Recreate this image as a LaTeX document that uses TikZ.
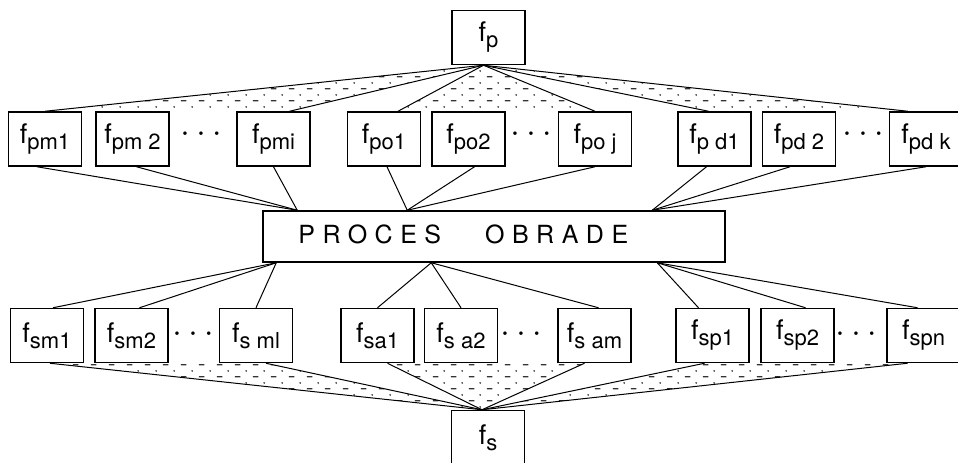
\documentclass[tikz,border=0pt]{standalone}
\usepackage{fontspec}
\setmainfont{TeX Gyre Heros}
\usetikzlibrary{calc,patterns.meta}

% 扇形区域的点划纹理
\tikzdeclarepattern{
  name=stipple,
  type=uncolored,
  bounding box={(0pt,0pt) and (9pt,6pt)},
  tile size={(9pt,6pt)},
  code={
    \tikzset{x=1pt,y=1pt}
    \path[draw,line width=0.7pt] (0.5,1.2) -- (3.3,1.2);
    \path[fill] (6.4,4.3) circle (0.5);
  }
}

\newcommand{\fidx}[1]{f\raisebox{-3pt}{\fontsize{11}{13}\selectfont #1}}
\newcommand{\trio}{{\fontsize{7}{7}\selectfont\textbullet\hspace{5.5pt}\textbullet\hspace{5.5pt}\textbullet}}

\tikzset{
  fbox/.style={draw,line width=0.75pt,minimum width=36.5pt,minimum height=27pt,
    inner sep=0pt,font=\fontsize{13.5}{15}\selectfont},
  procbox/.style={draw,line width=0.75pt,minimum width=231pt,minimum height=25.5pt,inner sep=0pt},
  link/.style={line width=0.5pt},
  fan/.style={pattern=stipple,pattern color=black!80},
  trio/.style={inner sep=0pt}
}

\begin{document}
\begin{tikzpicture}[x=0.5pt,y=-0.5pt]
\useasboundingbox (0,0) rectangle (958,462);
% 上方总框
\node[fbox] (fp) at (488.5,37.5) {\fidx{p}};
% 上排
\node[fbox] (fpm1) at (45,139) {\fidx{pm1}};
\node[fbox] (fpm2) at (132.5,139) {\fidx{pm 2}};
\node[fbox] (fpmi) at (273.5,139) {\fidx{pmi}};
\node[fbox] (fpo1) at (384,139) {\fidx{po1}};
\node[fbox] (fpo2) at (468.5,139) {\fidx{po2}};
\node[fbox] (fpoj) at (595,139) {\fidx{po j}};
\node[fbox] (fpd1) at (714.5,139) {\fidx{p d1}};
\node[fbox] (fpd2) at (799,139) {\fidx{pd 2}};
\node[fbox] (fpdk) at (926,139) {\fidx{pd k}};
\node[trio] (tdm) at (201,135) {\trio};
\node[trio] (tdo) at (531,135) {\trio};
\node[trio] (tdd) at (863,135) {\trio};
% 中间过程框
\node[procbox] (proc) at (494,236.5) {};
\node[anchor=base west,inner sep=0pt,font=\fontsize{12.5}{14}\selectfont\addfontfeature{LetterSpace=30}]
  (proctxt) at (298,243) {PROCES\hspace{22pt}OBRADE};
% 下排
\node[fbox] (fsm1) at (47,335.5) {\fidx{sm1}};
\node[fbox] (fsm2) at (131.5,335.5) {\fidx{sm2}};
\node[fbox] (fsml) at (256,335.5) {\fidx{s ml}};
\node[fbox] (fsa1) at (377.5,335.5) {\fidx{sa1}};
\node[fbox] (fsa2) at (461,335.5) {\fidx{s a2}};
\node[fbox] (fsam) at (594.5,335.5) {\fidx{s am}};
\node[fbox] (fsp1) at (712.5,335.5) {\fidx{sp1}};
\node[fbox] (fsp2) at (797.5,335.5) {\fidx{sp2}};
\node[fbox] (fspn) at (923.5,335.5) {\fidx{spn}};
\node[trio] (bdm) at (193,335) {\trio};
\node[trio] (bda) at (521,335) {\trio};
\node[trio] (bdp) at (856,335) {\trio};
% 下方总框
\node[fbox] (fs) at (488,437.5) {\fidx{s}};
% 汇聚点
\coordinate (pout) at ($(fp.south)+(-5,0)$);
\coordinate (hubm) at ($(proc.north west)+(35,0)$);
\coordinate (hubo) at ($(proc.north west)+(145,0)$);
\coordinate (hubd) at ($(proc.north west)+(390,0)$);
\coordinate (hubsm) at ($(proc.south west)+(14,0)$);
\coordinate (hubsa) at ($(proc.south west)+(169,0)$);
\coordinate (hubsp) at ($(proc.south west)+(395,0)$);
\coordinate (sin) at ($(fs.north)+(-6,0)$);
% 上方扇形
\fill[fan] (pout) -- (fpm1.north) -- ([xshift=8pt]fpmi.north) -- cycle;
\fill[fan] (pout) -- ([xshift=7pt]fpo1.north) -- (fpoj.north) -- cycle;
\fill[fan] (pout) -- ([xshift=-3pt]fpd1.north) -- ([xshift=-9pt]fpdk.north) -- cycle;
\draw[link] (pout) -- (fpm1.north);
\draw[link] (pout) -- ([xshift=8pt]fpmi.north);
\draw[link] (pout) -- ([xshift=7pt]fpo1.north);
\draw[link] (pout) -- (fpoj.north);
\draw[link] (pout) -- ([xshift=-3pt]fpd1.north);
\draw[link] (pout) -- ([xshift=-9pt]fpdk.north);
% 上排到过程框
\draw[link] ([xshift=-4pt]fpm1.south) -- (hubm);
\draw[link] ([xshift=2pt]fpm2.south) -- (hubm);
\draw[link] (fpmi.south) -- (hubm);
\draw[link] ([xshift=1.5pt]fpo1.south) -- (hubo);
\draw[link] ([xshift=3pt]fpo2.south) -- (hubo);
\draw[link] (fpoj.south) -- (hubo);
\draw[link] ([xshift=-4pt]fpd1.south) -- (hubd);
\draw[link] ([xshift=-4.5pt]fpd2.south) -- (hubd);
\draw[link] (fpdk.south) -- (hubd);
% 过程框到下排
\draw[link] (hubsm) -- ([xshift=3pt]fsm1.north);
\draw[link] (hubsm) -- ([xshift=4pt]fsm2.north);
\draw[link] (hubsm) -- (fsml.north);
\draw[link] (hubsa) -- (fsa1.north);
\draw[link] (hubsa) -- (fsa2.north);
\draw[link] (hubsa) -- ([xshift=2pt]fsam.north);
\draw[link] (hubsp) -- ([xshift=-7pt]fsp1.north);
\draw[link] (hubsp) -- ([xshift=4pt]fsp2.north);
\draw[link] (hubsp) -- ([xshift=-3pt]fspn.north);
% 下方扇形
\fill[fan] ([xshift=1.5pt]fsm1.south) -- ([xshift=5pt]fsml.south) -- (sin) -- cycle;
\fill[fan] ([xshift=5pt]fsa1.south) -- ([xshift=-5pt]fsam.south) -- (sin) -- cycle;
\fill[fan] ([xshift=-4pt]fsp1.south) -- ([xshift=-8pt]fspn.south) -- (sin) -- cycle;
\draw[link] ([xshift=1.5pt]fsm1.south) -- (sin);
\draw[link] ([xshift=5pt]fsml.south) -- (sin);
\draw[link] ([xshift=5pt]fsa1.south) -- (sin);
\draw[link] ([xshift=-5pt]fsam.south) -- (sin);
\draw[link] ([xshift=-4pt]fsp1.south) -- (sin);
\draw[link] ([xshift=-8pt]fspn.south) -- (sin);
\end{tikzpicture}
\end{document}
